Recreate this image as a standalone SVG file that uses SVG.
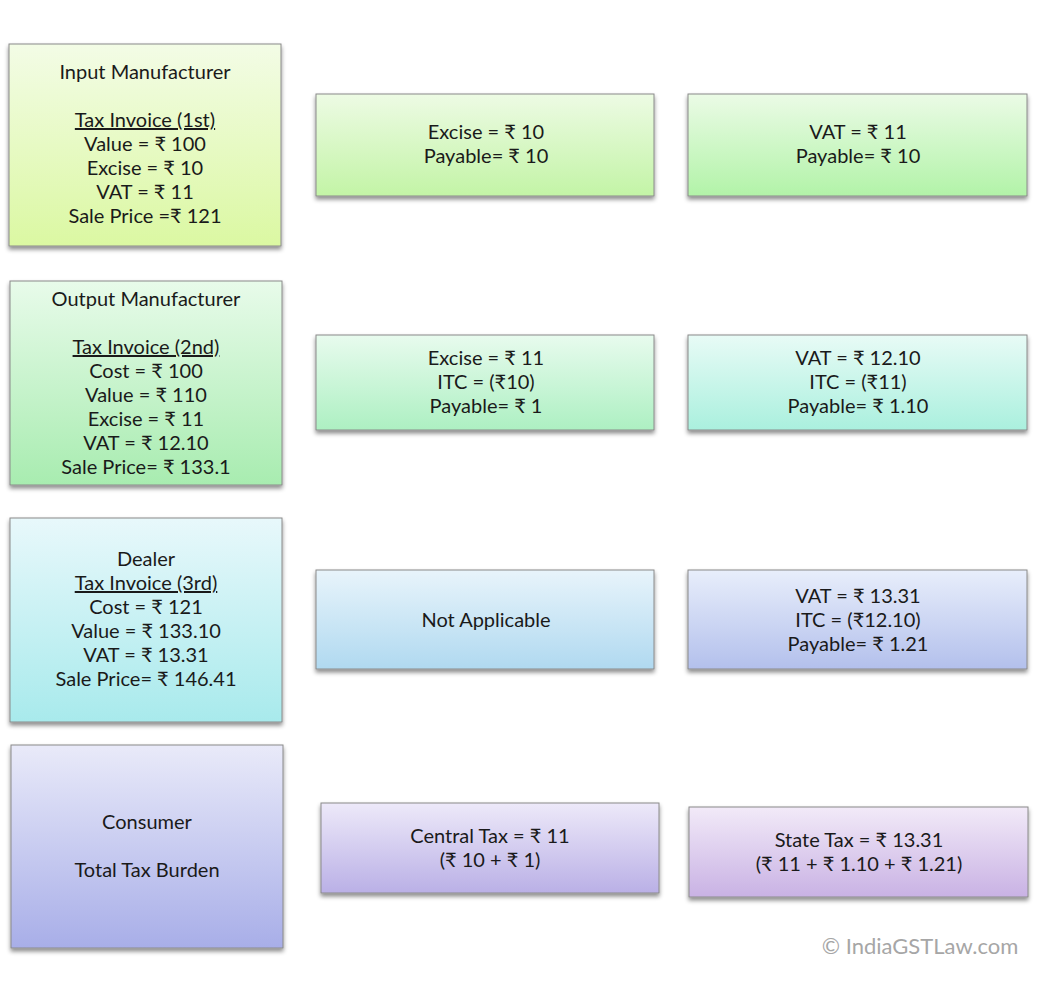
<svg xmlns="http://www.w3.org/2000/svg" width="1041" height="1003" viewBox="0 0 1041 1003">
<style>
text{font-family:Lato,"Noto Sans","DejaVu Sans",sans-serif;font-size:20px;fill:#1a1a1a;text-anchor:middle}
.box{stroke:#8a8a8a;stroke-width:1;filter:url(#sh)}
.u{text-decoration:underline}
.wm{fill:#a6a6a6;font-size:22px}
</style>
<defs>
<filter id="sh" x="-5%" y="-5%" width="115%" height="120%">
<feDropShadow dx="0" dy="3" stdDeviation="2" flood-color="#000" flood-opacity="0.45"/>
</filter>
<linearGradient id="g1" x1="0" y1="0" x2="0" y2="1"><stop offset="0" stop-color="#f3fce6"/><stop offset="1" stop-color="#dbf8a2"/></linearGradient>
<linearGradient id="g1a" x1="0" y1="0" x2="0" y2="1"><stop offset="0" stop-color="#edfbe4"/><stop offset="1" stop-color="#c3f4a6"/></linearGradient>
<linearGradient id="g1b" x1="0" y1="0" x2="0" y2="1"><stop offset="0" stop-color="#ebfbe6"/><stop offset="1" stop-color="#b2f3a8"/></linearGradient>
<linearGradient id="g2" x1="0" y1="0" x2="0" y2="1"><stop offset="0" stop-color="#e8fbea"/><stop offset="1" stop-color="#a8ecb0"/></linearGradient>
<linearGradient id="g2a" x1="0" y1="0" x2="0" y2="1"><stop offset="0" stop-color="#e8fbee"/><stop offset="1" stop-color="#adf0c2"/></linearGradient>
<linearGradient id="g2b" x1="0" y1="0" x2="0" y2="1"><stop offset="0" stop-color="#e8fbf6"/><stop offset="1" stop-color="#aaf0de"/></linearGradient>
<linearGradient id="g3" x1="0" y1="0" x2="0" y2="1"><stop offset="0" stop-color="#e8f8fb"/><stop offset="1" stop-color="#a8eaec"/></linearGradient>
<linearGradient id="g3a" x1="0" y1="0" x2="0" y2="1"><stop offset="0" stop-color="#e8f4fb"/><stop offset="1" stop-color="#b0d9f0"/></linearGradient>
<linearGradient id="g3b" x1="0" y1="0" x2="0" y2="1"><stop offset="0" stop-color="#e8eefb"/><stop offset="1" stop-color="#b3c0ec"/></linearGradient>
<linearGradient id="g4" x1="0" y1="0" x2="0" y2="1"><stop offset="0" stop-color="#e9eaf9"/><stop offset="1" stop-color="#a8aee8"/></linearGradient>
<linearGradient id="g4a" x1="0" y1="0" x2="0" y2="1"><stop offset="0" stop-color="#ede9f9"/><stop offset="1" stop-color="#bab0e6"/></linearGradient>
<linearGradient id="g4b" x1="0" y1="0" x2="0" y2="1"><stop offset="0" stop-color="#f2eaf8"/><stop offset="1" stop-color="#c9b2e4"/></linearGradient>
</defs>
<rect width="1041" height="1003" fill="#ffffff"/>

<g id="input-manufacturer">
<rect class="box" x="9" y="44" width="272" height="202" fill="url(#g1)"/>
<text x="145" y="79">Input Manufacturer</text>
<text x="145" y="127" class="u">Tax Invoice (1st)</text>
<text x="145" y="151">Value = ₹ 100</text>
<text x="145" y="175">Excise = ₹ 10</text>
<text x="145" y="199">VAT = ₹ 11</text>
<text x="145" y="223">Sale Price =₹ 121</text>
</g>
<g id="excise-1">
<rect class="box" x="316" y="94" width="338" height="102" fill="url(#g1a)"/>
<text x="486" y="139">Excise = ₹ 10</text>
<text x="486" y="163">Payable= ₹ 10</text>
</g>
<g id="vat-1">
<rect class="box" x="688" y="94" width="339" height="102" fill="url(#g1b)"/>
<text x="858" y="139">VAT = ₹ 11</text>
<text x="858" y="163">Payable= ₹ 10</text>
</g>

<g id="output-manufacturer">
<rect class="box" x="10" y="281" width="272" height="204" fill="url(#g2)"/>
<text x="146" y="306">Output Manufacturer</text>
<text x="146" y="354" class="u">Tax Invoice (2nd)</text>
<text x="146" y="378">Cost = ₹ 100</text>
<text x="146" y="402">Value = ₹ 110</text>
<text x="146" y="426">Excise = ₹ 11</text>
<text x="146" y="450">VAT = ₹ 12.10</text>
<text x="146" y="474">Sale Price= ₹ 133.1</text>
</g>
<g id="excise-2">
<rect class="box" x="316" y="335" width="338" height="95" fill="url(#g2a)"/>
<text x="486" y="365">Excise = ₹ 11</text>
<text x="486" y="389">ITC = (₹10)</text>
<text x="486" y="413">Payable= ₹ 1</text>
</g>
<g id="vat-2">
<rect class="box" x="688" y="335" width="339" height="95" fill="url(#g2b)"/>
<text x="858" y="365">VAT = ₹ 12.10</text>
<text x="858" y="389">ITC = (₹11)</text>
<text x="858" y="413">Payable= ₹ 1.10</text>
</g>

<g id="dealer">
<rect class="box" x="10" y="518" width="272" height="204" fill="url(#g3)"/>
<text x="146" y="566">Dealer</text>
<text x="146" y="590" class="u">Tax Invoice (3rd)</text>
<text x="146" y="614">Cost = ₹ 121</text>
<text x="146" y="638">Value = ₹ 133.10</text>
<text x="146" y="662">VAT = ₹ 13.31</text>
<text x="146" y="686">Sale Price= ₹ 146.41</text>
</g>
<g id="excise-3">
<rect class="box" x="316" y="570" width="338" height="99" fill="url(#g3a)"/>
<text x="486" y="627">Not Applicable</text>
</g>
<g id="vat-3">
<rect class="box" x="688" y="570" width="339" height="99" fill="url(#g3b)"/>
<text x="858" y="603">VAT = ₹ 13.31</text>
<text x="858" y="627">ITC = (₹12.10)</text>
<text x="858" y="651">Payable= ₹ 1.21</text>
</g>

<g id="consumer">
<rect class="box" x="11" y="745" width="272" height="203" fill="url(#g4)"/>
<text x="147" y="829">Consumer</text>
<text x="147" y="877">Total Tax Burden</text>
</g>
<g id="central-tax">
<rect class="box" x="321" y="803" width="338" height="90" fill="url(#g4a)"/>
<text x="490" y="843">Central Tax = ₹ 11</text>
<text x="490" y="867">(₹ 10 + ₹ 1)</text>
</g>
<g id="state-tax">
<rect class="box" x="689" y="807" width="339" height="90" fill="url(#g4b)"/>
<text x="859" y="847">State Tax = ₹ 13.31</text>
<text x="859" y="871">(₹ 11 + ₹ 1.10 + ₹ 1.21)</text>
</g>

<g id="connectors"></g>

<text class="wm" x="920" y="954">©  IndiaGSTLaw.com</text>
</svg>
